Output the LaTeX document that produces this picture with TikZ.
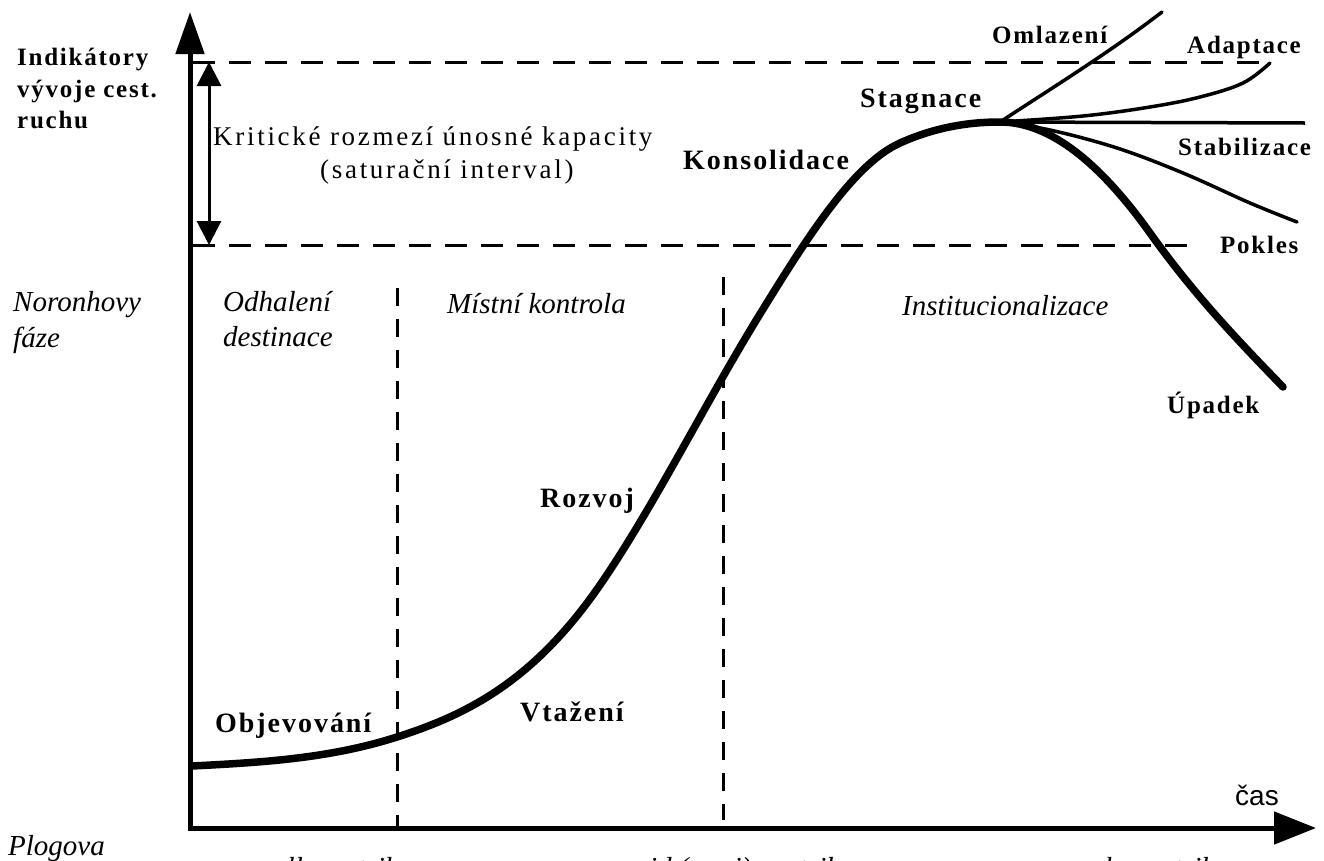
\documentclass[tikz,border=0pt]{standalone}
\usepackage{fontspec}
\setmainfont{Liberation Serif}
\newfontfamily\lblfont[LetterSpace=7]{Liberation Serif}
\newfontfamily\krfont[LetterSpace=10]{Liberation Serif}
\newfontfamily\itfont{Liberation Serif}
\newfontfamily\casfont{Liberation Sans}
\usetikzlibrary{arrows.meta}
\tikzset{
  blab/.style={inner sep=0pt, anchor=base west, font=\lblfont\bfseries\fontsize{#1}{#1}\selectfont},
  ilab/.style={inner sep=0pt, anchor=base west, font=\itfont\itshape\fontsize{29}{29}\selectfont},
  rlab/.style={inner sep=0pt, anchor=base west, font=\krfont\fontsize{27}{27}\selectfont},
  axisline/.style={line width=5pt},
  dashh/.style={line width=3pt, dash pattern=on 22pt off 14pt},
  dashv/.style={line width=3pt, dash pattern=on 18pt off 13pt},
  maincurve/.style={line width=7.5pt, line join=round, line cap=round},
  branch/.style={line width=3.5pt, line cap=round},
}
\begin{document}
\begin{tikzpicture}[x=1pt,y=-1pt]
\useasboundingbox (0,0) rectangle (1324,860);
\clip (0,0) rectangle (1324,860);
\fill[white] (0,0) rectangle (1324,860);

% coordinates
\coordinate (O) at (190,828);
\coordinate (ytip) at (190,12);
\coordinate (xtip) at (1316,828);
\coordinate (dt0) at (193,62);
\coordinate (dt1) at (1262,62);
\coordinate (db0) at (193,245);
\coordinate (db1) at (1195,245);
\coordinate (da0) at (209,62);
\coordinate (da1) at (209,245);
\coordinate (v1a) at (397,288);
\coordinate (v1b) at (397,828);
\coordinate (v2a) at (723,277);
\coordinate (v2b) at (723,820);
\coordinate (c0) at (192,766);
\coordinate (c1) at (397,737);
\coordinate (c2) at (600,585);
\coordinate (c3) at (760,314);
\coordinate (c4) at (900,143);
\coordinate (peak) at (1000,122);
\coordinate (c6) at (1150,233);
\coordinate (c7) at (1283,387);
\coordinate (omlend) at (1162,12);
\coordinate (adapend) at (1270,63);
\coordinate (stabend) at (1305,123);
\coordinate (pokend) at (1297,222);

% dashed lines
\draw[dashh] (dt0) -- (dt1);
\draw[dashh] (db0) -- (db1);
\draw[dashv] (v1a) -- (v1b);
\draw[dashv] (v2a) -- (v2b);

% axes
\draw[axisline, -{Triangle[length=42pt,width=28pt]}] ([yshift=-2.5pt]O) -- (ytip);
\draw[axisline, -{Triangle[length=42pt,width=32pt]}] ([xshift=-2.5pt]O) -- (xtip);

% double arrow
\draw[line width=3pt, {Triangle[length=24pt,width=24pt]}-{Triangle[length=24pt,width=24pt]}] (da0) -- (da1);

% main curve
\draw[maincurve] (c0) .. controls (259,762.5) and (328,759) .. (c1)
  .. controls (464.7,715.3) and (532.3,683.2) .. (c2)
  .. controls (653.3,507.7) and (706.7,400.4) .. (c3)
  .. controls (806.7,238.3) and (853.3,164) .. (c4)
  .. controls (933.3,128) and (966.7,122) .. (peak)
  .. controls (1050,122) and (1100,163) .. (c6)
  .. controls (1194.3,295) and (1238.7,341.3) .. (c7);

% branches
\draw[branch] (peak) .. controls (1055,86) and (1110,52) .. (omlend);
\draw[branch] plot[smooth, tension=0.6] coordinates {(peak) (1083,116) (1150,107) (1200,97) (1243,83) (adapend)};
\draw[branch, line cap=butt] (peak) -- (stabend);
\draw[branch] plot[smooth, tension=0.6] coordinates {(peak) (1050,130) (1117,148) (1183,173) (1250,203) (pokend)};

% labels
\node[blab=25] (ind1) at (17,65) {Indikátory};
\node[blab=25] (ind2) at (17,97) {vývoje cest.};
\node[blab=25] (ind3) at (17,128) {ruchu};
\node[rlab] (krit) at (213,145) {Kritické rozmezí únosné kapacity};
\node[rlab] (sat) at (320,178) {(saturační interval)};
\node[ilab] (nor1) at (13,311) {Noronhovy};
\node[ilab] (nor2) at (13,347) {fáze};
\node[ilab] (odh1) at (223,311) {Odhalení};
\node[ilab] (odh2) at (223,346) {destinace};
\node[ilab] (mist) at (447,313) {Místní kontrola};
\node[ilab] (inst) at (902,315) {Institucionalizace};
\node[blab=28] (kons) at (683,169) {Konsolidace};
\node[blab=28] (stag) at (860,107) {Stagnace};
\node[blab=25] (oml) at (992,43) {Omlazení};
\node[blab=25] (adap) at (1187,53) {Adaptace};
\node[blab=25] (stab) at (1178,155) {Stabilizace};
\node[blab=25] (pok) at (1220,253) {Pokles};
\node[blab=25] (upa) at (1167,413) {Úpadek};
\node[blab=28] (roz) at (540,507) {Rozvoj};
\node[blab=28] (vta) at (520,721) {Vtažení};
\node[blab=28] (obj) at (215,732) {Objevování};
\node[inner sep=0pt, anchor=base west, font=\casfont\fontsize{28}{28}\selectfont] (cas) at (1235,805) {čas};
\node[ilab] (plog) at (8,855) {Plogova};
\node[ilab] (allo) at (272,877) {allocentrik};
\node[ilab] (mid) at (628,877) {mid (semi) centrik};
\node[ilab] (psy) at (1053,877) {psychocentrik};
\end{tikzpicture}
\end{document}
